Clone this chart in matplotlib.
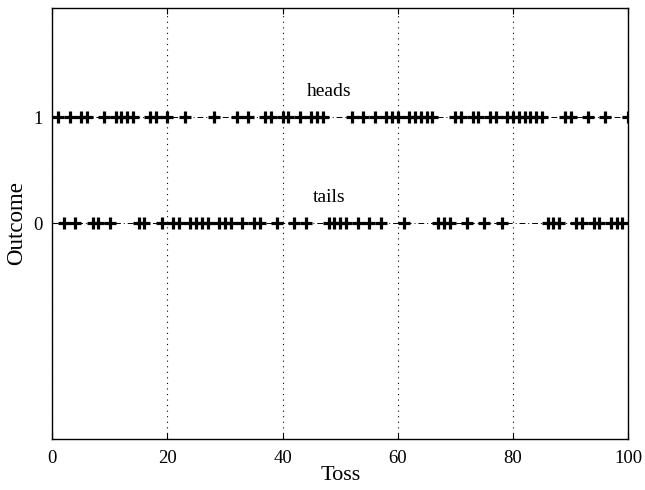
import matplotlib
matplotlib.use("Agg")
import matplotlib.pyplot as plt

# toss numbers
heads = [1, 3, 5, 6, 9, 11, 12, 13, 14, 17, 18, 20, 23, 28, 32, 34, 37, 38,
         40, 41, 43, 45, 46, 47, 52, 54, 56, 58, 59, 60, 62, 63, 64, 65, 66,
         70, 71, 73, 74, 76, 77, 79, 80, 81, 82, 83, 84, 85, 89, 90, 93, 96,
         100]
tails = [2, 4, 7, 8, 10, 15, 16, 19, 21, 22, 24, 25, 26, 27, 29, 30, 31, 33,
         35, 36, 39, 42, 44, 48, 49, 50, 51, 53, 55, 57, 61, 67, 68, 69, 72,
         75, 78, 86, 87, 88, 91, 92, 94, 95, 97, 98, 99]

x_ticks = [0, 20, 40, 60, 80, 100]
y_ticks = [0, 1]

plt.rcParams["font.family"] = ["Liberation Serif", "DejaVu Serif"]

fig = plt.figure(figsize=(6.45, 4.9), dpi=100)
ax = fig.add_axes([0.081, 0.104, 0.893, 0.880])

for pts, val, label in [(heads, 1, "heads"), (tails, 0, "tails")]:
    ax.plot(pts, [val] * len(pts), color="black", linestyle="-.",
            dashes=(6, 3, 1, 3), linewidth=0.7, marker="+",
            markersize=8.5, markeredgewidth=2.3)
    ax.text(48, val + 0.24, label, ha="center", va="center", fontsize=14)

ax.set_xlim(0, 100)
ax.set_ylim(-2.03, 2.03)
ax.set_xticks(x_ticks)
ax.set_yticks(y_ticks)
ax.tick_params(direction="in", length=4, labelsize=13.5, top=True, right=True)
ax.tick_params(axis="x", pad=8)
ax.tick_params(axis="y", pad=7)
ax.xaxis.grid(True, linestyle=(0, (1, 4)), color="black", linewidth=0.8)
ax.set_xlabel("Toss", fontsize=16, labelpad=-1)
ax.set_ylabel("Outcome", fontsize=16.5, labelpad=4)
for s in ax.spines.values():
    s.set_linewidth(1.0)

fig.savefig("out.png", dpi=100)
